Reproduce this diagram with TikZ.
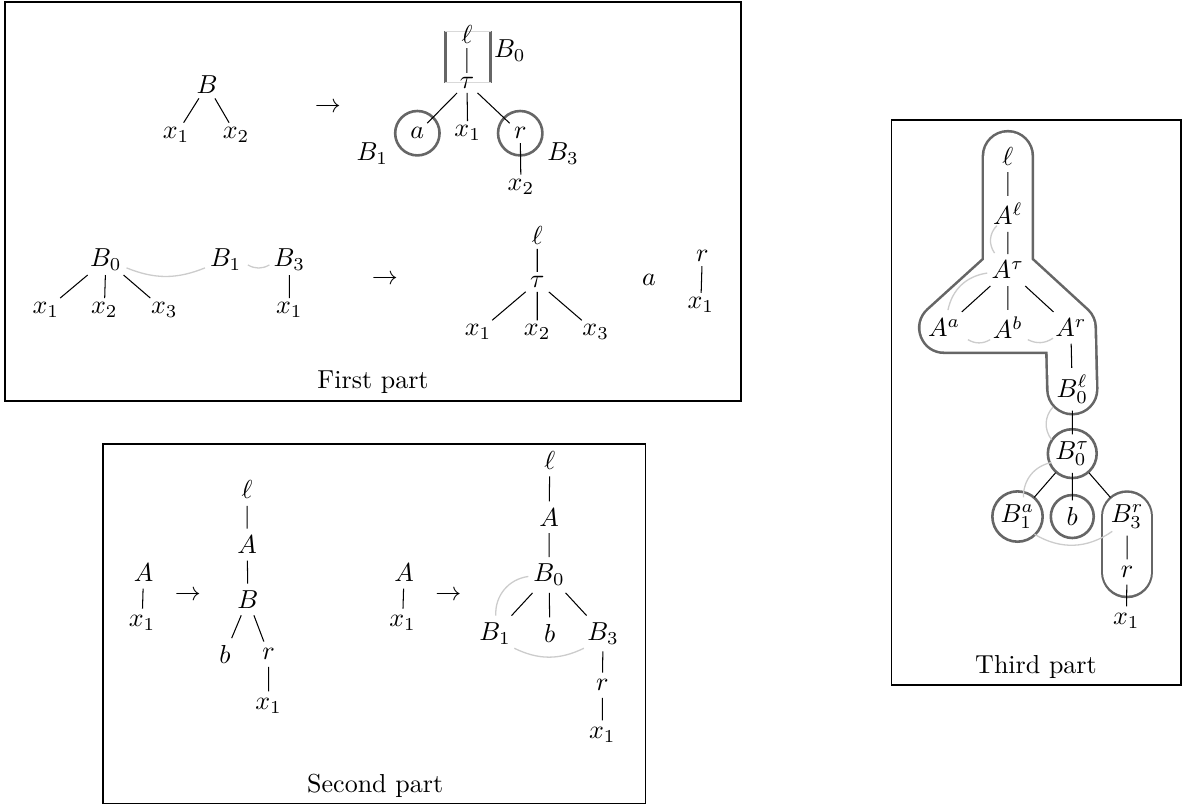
\documentclass[tikz,border=0pt]{standalone}
\usetikzlibrary{calc,backgrounds}
\begin{document}
\begin{tikzpicture}[
  partbox/.style={draw=black, line width=0.6pt},
  ring/.style={draw=black!60, line width=1pt},
  hull/.style={draw=black!60, line width=0.71cm, line cap=round, line join=round},
  hullin/.style={draw=white, line width=0.64cm, line cap=round, line join=round},
  hullside/.style={draw=black!60, line width=1pt},
  hullend/.style={draw=black!15, line width=0.4pt},
  trace/.style={draw=black!20, line width=0.5pt}]
  \useasboundingbox (0,0) rectangle (16,-10.905);

  \begin{scope}[inner sep=1.5pt]
  \node (b) at (2.80,-1.15) {$B$};
  \node (bx1) at (2.38,-1.82) {$x_1$};
  \node (bx2) at (3.19,-1.82) {$x_2$};
  \node (to1) at (4.43,-1.45) {$\to$};
  \node (l1) at (6.31,-0.47) {$\ell$};
  \node (tau1) at (6.31,-1.12) {$\tau$};
  \node (a1) at (5.64,-1.80) {$a$};
  \node (y1) at (6.32,-1.80) {$x_1$};
  \node (r1) at (7.03,-1.80) {$r$};
  \node (y2) at (7.04,-2.52) {$x_2$};
  \node (lbl0) at (6.89,-0.68) {$B_0$};
  \node (lbl1) at (5.03,-2.07) {$B_1$};
  \node (lbl3) at (7.61,-2.07) {$B_3$};
  \draw (b) -- (bx1) (b) -- (bx2);
  \draw (l1) -- (tau1) (tau1) -- (a1) (tau1) -- (y1) (tau1) -- (r1) (r1) -- (y2);

  \node (b0) at (1.43,-3.51) {$B_0$};
  \node (c1) at (0.62,-4.19) {$x_1$};
  \node (c2) at (1.41,-4.19) {$x_2$};
  \node (c3) at (2.22,-4.19) {$x_3$};
  \node (b1) at (3.05,-3.51) {$B_1$};
  \node (b3) at (3.91,-3.51) {$B_3$};
  \node (c4) at (3.91,-4.19) {$x_1$};
  \node (to2) at (5.20,-3.78) {$\to$};
  \node (l2) at (7.26,-3.18) {$\ell$};
  \node (tau2) at (7.26,-3.81) {$\tau$};
  \node (d1) at (6.46,-4.49) {$x_1$};
  \node (d2) at (7.26,-4.49) {$x_2$};
  \node (d3) at (8.05,-4.49) {$x_3$};
  \node (a2) at (8.77,-3.78) {$a$};
  \node (r2) at (9.49,-3.46) {$r$};
  \node (d4) at (9.47,-4.12) {$x_1$};
  \node (cap1) at (5.04,-5.16) {First part};
  \draw (b0) -- (c1) (b0) -- (c2) (b0) -- (c3) (b3) -- (c4);
  \draw (l2) -- (tau2) (tau2) -- (d1) (tau2) -- (d2) (tau2) -- (d3) (r2) -- (d4);
  \end{scope}
  \draw[trace] ($(b0)+(0.28,-0.11)$) to[bend right=22] ($(b1)+(-0.28,-0.11)$);
  \draw[trace] ($(b1)+(0.30,-0.07)$) to[bend right=30] ($(b3)+(-0.27,-0.07)$);
  \draw[partbox] (0.07,-0.03) rectangle (10.01,-5.42);

  \begin{scope}[inner sep=2.5pt]
  \node (e1) at (1.94,-7.74) {$A$};
  \node (e2) at (1.92,-8.42) {$x_1$};
  \node (to3) at (2.54,-8.05) {$\to$};
  \node (l3) at (3.34,-6.62) {$\ell$};
  \node (f1) at (3.34,-7.36) {$A$};
  \node (f2) at (3.35,-8.10) {$B$};
  \node (f3) at (3.04,-8.84) {$b$};
  \node (f4) at (3.63,-8.84) {$r$};
  \node (f5) at (3.63,-9.54) {$x_1$};
  \node (g1) at (5.46,-7.74) {$A$};
  \node (g2) at (5.44,-8.42) {$x_1$};
  \node (to4) at (6.06,-8.05) {$\to$};
  \node (l4) at (7.43,-6.22) {$\ell$};
  \node (h1) at (7.42,-6.99) {$A$};
  \node (h2) at (7.42,-7.77) {$B_0$};
  \node (h3) at (6.69,-8.56) {$B_1$};
  \node (h4) at (7.43,-8.56) {$b$};
  \node (h5) at (8.15,-8.56) {$B_3$};
  \node (h6) at (8.14,-9.26) {$r$};
  \node (h7) at (8.14,-9.93) {$x_1$};
  \node (cap2) at (5.07,-10.62) {Second part};
  \draw (e1) -- (e2) (g1) -- (g2);
  \draw (l3) -- (f1) (f1) -- (f2) (f2) -- (f3) (f2) -- (f4) (f4) -- (f5);
  \draw (l4) -- (h1) (h1) -- (h2) (h2) -- (h3) (h2) -- (h4) (h2) -- (h5) (h5) -- (h6) (h6) -- (h7);
  \end{scope}
  \draw[trace] ($(h2)+(-0.28,-0.02)$) to[bend right=43] ($(h3)+(0.01,0.24)$);
  \draw[trace] ($(h3)+(0.26,-0.20)$) to[bend right=26] ($(h5)+(-0.26,-0.20)$);
  \draw[partbox] (1.39,-6.00) rectangle (8.72,-10.86);

  \begin{scope}[inner sep=2.5pt]
  \node (l5) at (13.62,-2.11) {$\ell$};
  \node (k1) at (13.62,-2.89) {$A^\ell$};
  \node (k2) at (13.62,-3.65) {$A^\tau$};
  \node (k3) at (12.76,-4.43) {$A^a$};
  \node (k4) at (13.62,-4.43) {$A^b$};
  \node (k5) at (14.47,-4.43) {$A^r$};
  \node (m1) at (14.49,-5.26) {$B_0^\ell$};
  \node (m2) at (14.49,-6.13) {$B_0^\tau$};
  \node (m3) at (13.75,-6.98) {$B_1^a$};
  \node (m4) at (14.49,-6.98) {$b$};
  \node (m5) at (15.23,-6.98) {$B_3^r$};
  \node (m6) at (15.23,-7.73) {$r$};
  \node (m7) at (15.22,-8.39) {$x_1$};
  \node (cap3) at (14.00,-9.01) {Third part};
  \draw (l5) -- (k1) (k1) -- (k2) (k2) -- (k3) (k2) -- (k4) (k2) -- (k5) (k5) -- (m1);
  \draw (m1) -- (m2) (m2) -- (m3) (m2) -- (m4) (m2) -- (m5) (m5) -- (m6) (m6) -- (m7);
  \end{scope}
  \draw[trace] ($(k1)+(-0.15,-0.16)$) to[bend right=40] ($(k2)+(-0.18,0.23)$);
  \draw[trace] ($(k2)+(-0.28,-0.04)$) to[bend right=35] ($(k3)+(0.05,0.24)$);
  \draw[trace] ($(k3)+(0.32,-0.16)$) to[bend right=30] ($(k4)+(-0.24,-0.16)$);
  \draw[trace] ($(k4)+(0.27,-0.16)$) to[bend right=30] ($(k5)+(-0.24,-0.14)$);
  \draw[trace] ($(m1)+(-0.26,-0.24)$) to[bend right=40] ($(m2)+(-0.28,0.19)$);
  \draw[trace] ($(m2)+(-0.28,-0.12)$) to[bend right=40] ($(m3)+(0.08,0.26)$);
  \draw[trace] ($(m3)+(0.23,-0.24)$) to[bend right=33] ($(m5)+(-0.20,-0.20)$);
  \draw[partbox] (12.05,-1.62) rectangle (15.96,-9.26);

  \begin{scope}[on background layer]
    \draw[hullside] (6.02,-0.42) -- (6.02,-1.12) (6.63,-0.42) -- (6.63,-1.12);
    \draw[hullend] (6.02,-0.42) -- (6.63,-0.42) (6.02,-1.12) -- (6.63,-1.12);
    \draw[ring] (a1.center) circle (0.30) (r1.center) circle (0.30);
    \draw[hull] (l5.center) -- (k2.center) -- (k3.center) -- (k5.center) -- (m1.center)
      (k2.center) -- (k5.center);
    \draw[hullin] (l5.center) -- (k2.center) -- (k3.center) -- (k5.center) -- (m1.center)
      (k2.center) -- (k5.center);
    \fill[white] (k2.center) -- (k3.center) -- (k5.center) -- cycle;
    \draw[hull] (m5.center) -- (m6.center);
    \draw[hullin] (m5.center) -- (m6.center);
    \draw[ring] (m2.center) circle (0.33) (m3.center) circle (0.34) (m4.center) circle (0.29);
  \end{scope}
\end{tikzpicture}
\end{document}
